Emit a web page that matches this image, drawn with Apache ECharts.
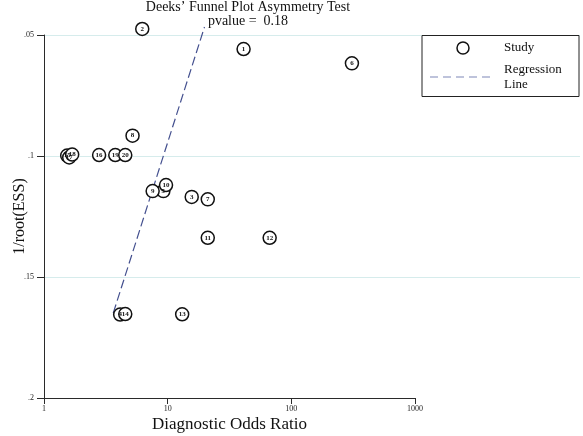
<!DOCTYPE html>
<html><head><meta charset="utf-8">
<script src="https://cdn.jsdelivr.net/npm/echarts@6/dist/echarts.min.js"></script>
<style>html,body{margin:0;padding:0;background:#fff}#c{width:583px;height:436px}</style>
</head><body><div id="c"></div>
<script>
// Study data
const studyIds = ['1','2','3','4','5','6','7','8','9','10','11','12','13','14','15','16','17','18','19','20'];
const studyDOR = [41.1, 6.23, 15.65, 4.13, 9.23, 309, 21.1, 5.2, 7.56, 9.70, 21.1, 66.8, 13.1, 4.54, 1.54, 2.79, 1.60, 1.69, 3.77, 4.54];
const studyInvRootESS = [0.0558, 0.0475, 0.1169, 0.1655, 0.1145, 0.0617, 0.1179, 0.0916, 0.1145, 0.1120, 0.1338, 0.1338, 0.1654, 0.1653, 0.0998, 0.0996, 0.1006, 0.0994, 0.0996, 0.0996];
// Regression line endpoints
const regX = [3.63, 19.85];
const regY = [0.1649, 0.0467];
// Tick labels
const xTickLabels = {1: '1', 10: '10', 100: '100', 1000: '1000'};
const yTickLabels = {5: '.05', 10: '.1', 15: '.15', 20: '.2'};

const serif = 'Liberation Serif';
const axisColor = '#2a2a2a';

const chart = echarts.init(document.getElementById('c'), null, {renderer: 'canvas'});
chart.setOption({
  animation: false,
  backgroundColor: '#fff',
  title: {
    text: 'Deeks\u2019 Funnel Plot Asymmetry Test\npvalue =  0.18',
    left: 243, top: -5, textAlign: 'center',
    textStyle: {fontFamily: serif, fontSize: 14, fontWeight: 'normal', color: '#111', lineHeight: 14}
  },
  grid: [
    {left: 44, right: 168, top: 35, bottom: 38, outerBoundsMode: 'none', containLabel: false},
    {left: 44, right: 3, top: 35, height: 242, outerBoundsMode: 'none', containLabel: false}
  ],
  xAxis: [
    {
      gridIndex: 0, type: 'log', logBase: 10, min: 1, max: 1000,
      name: 'Diagnostic Odds Ratio', nameLocation: 'middle', nameGap: 18, nameMoveOverlap: false,
      nameTextStyle: {fontFamily: serif, fontSize: 17, color: '#111'},
      axisLine: {lineStyle: {color: axisColor, width: 1}},
      axisTick: {show: true, length: 6, lineStyle: {color: axisColor}},
      minorTick: {show: false},
      axisLabel: {fontFamily: serif, fontSize: 8, color: '#222', margin: 7,
        formatter: v => xTickLabels[Math.round(v)] || ''},
      splitLine: {show: false}
    },
    {gridIndex: 1, type: 'value', min: 0, max: 1, show: false}
  ],
  yAxis: [
    {
      gridIndex: 0, type: 'value', inverse: true, min: 0.05, max: 0.2, interval: 0.05,
      name: '1/root(ESS)', nameLocation: 'middle', nameGap: 16, nameRotate: 90, nameMoveOverlap: false,
      nameTextStyle: {fontFamily: serif, fontSize: 16, color: '#111'},
      axisLine: {show: true, lineStyle: {color: axisColor, width: 1}},
      axisTick: {show: true, length: 7, lineStyle: {color: axisColor}},
      axisLabel: {fontFamily: serif, fontSize: 8, color: '#222', margin: 10,
        formatter: v => yTickLabels[Math.round(v * 100)] || ''},
      splitLine: {show: false}
    },
    {
      gridIndex: 1, type: 'value', inverse: true, min: 0.05, max: 0.15, interval: 0.05,
      axisLine: {show: false}, axisTick: {show: false}, axisLabel: {show: false},
      splitLine: {show: true, lineStyle: {color: '#d6ecec', width: 1}}
    }
  ],
  series: [
    {
      type: 'line', xAxisIndex: 0, yAxisIndex: 0, clip: false, symbol: 'none',
      data: regX.map((x, i) => [x, regY[i]]),
      lineStyle: {color: '#44508f', width: 1.2, type: [9, 4]}, z: 2
    },
    {
      type: 'scatter', xAxisIndex: 0, yAxisIndex: 0, clip: false,
      data: studyDOR.map((x, i) => ({value: [x, studyInvRootESS[i]], name: studyIds[i]})),
      symbol: 'circle', symbolSize: 13,
      itemStyle: {color: '#fff', borderColor: '#111', borderWidth: 1.5, opacity: 1},
      label: {show: true, position: 'inside', formatter: p => p.name,
        fontFamily: serif, fontSize: 7, fontWeight: 'bold', color: '#111'},
      z: 3
    }
  ],
  graphic: [
    {type: 'rect', shape: {x: 422, y: 35.5, width: 157, height: 61},
      style: {fill: '#fff', stroke: '#222', lineWidth: 1}, z: 10},
    {type: 'circle', shape: {cx: 463, cy: 48, r: 6},
      style: {fill: '#fff', stroke: '#111', lineWidth: 1.5}, z: 11},
    {type: 'text', x: 504, y: 48, style: {text: 'Study', fontFamily: serif, fontSize: 13,
      fill: '#111', verticalAlign: 'middle'}, z: 11},
    {type: 'line', shape: {x1: 430, y1: 77, x2: 492, y2: 77},
      style: {stroke: '#a9b0d0', lineWidth: 1.5, lineDash: [8, 5]}, z: 11},
    {type: 'text', x: 504, y: 70, style: {text: 'Regression', fontFamily: serif, fontSize: 13,
      fill: '#111', verticalAlign: 'middle'}, z: 11},
    {type: 'text', x: 504, y: 85, style: {text: 'Line', fontFamily: serif, fontSize: 13,
      fill: '#111', verticalAlign: 'middle'}, z: 11}
  ]
});
</script></body></html>
